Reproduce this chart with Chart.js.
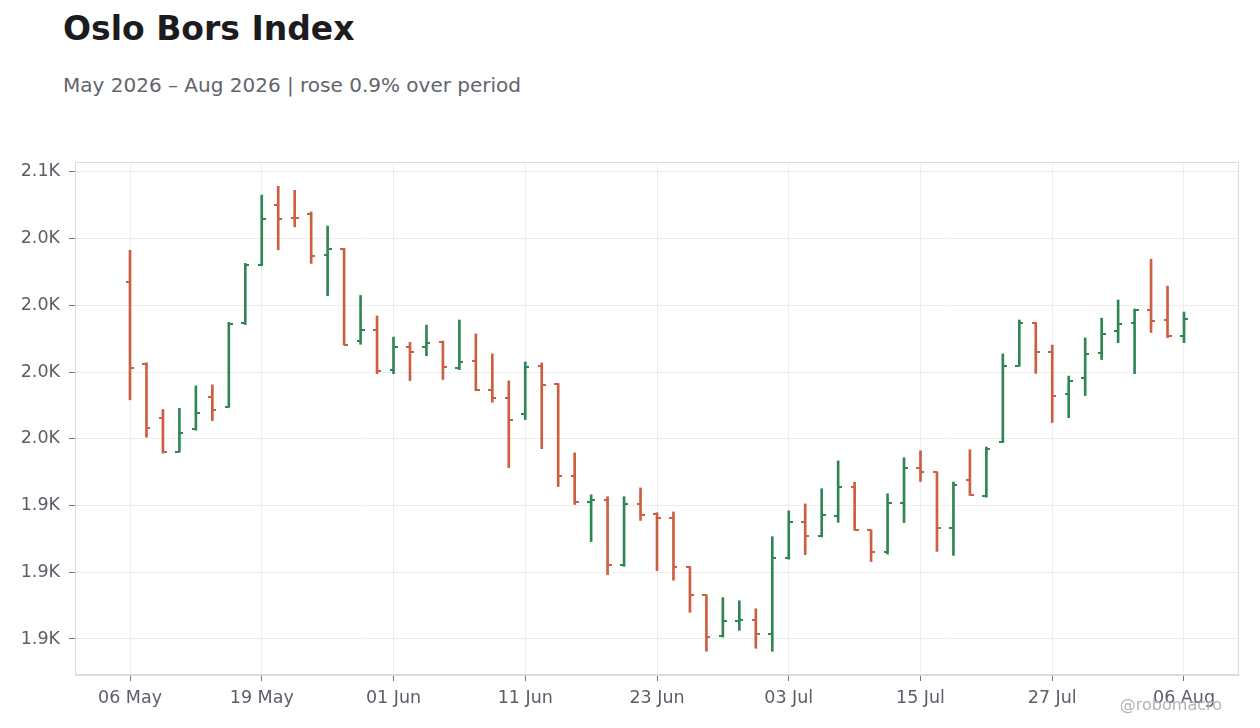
<!DOCTYPE html>
<html>
<head>
<meta charset="utf-8">
<script src="https://cdn.jsdelivr.net/npm/chart.js@4.4.1/dist/chart.umd.min.js"></script>
<style>
  html, body { margin: 0; padding: 0; background: #fff; }
  body { width: 1260px; height: 728px; position: relative; overflow: hidden; font-family: 'DejaVu Sans', sans-serif; }
  #chart { position: absolute; left: 0; top: 0; }
  .title { position: absolute; left: 63px; top: 12px; font-size: 33px; line-height: 33px; font-weight: bold; color: #1b1b20; white-space: nowrap; }
  .subtitle { position: absolute; left: 63px; top: 75px; font-size: 20px; line-height: 20px; color: #62646d; white-space: nowrap; }
  .credit { position: absolute; right: 38px; top: 697px; font-size: 16px; line-height: 16px; color: #b3b4b9; white-space: nowrap; }
</style>
</head>
<body>
<div class="title">Oslo Bors Index</div>
<div class="subtitle">May 2026 – Aug 2026 | rose 0.9% over period</div>
<canvas id="chart" width="1260" height="728"></canvas>
<div class="credit">@robomacro</div>
<script>
// trading days (Oslo Børs, 2026)
const dates = [
  '06 May', '07 May', '08 May', '11 May', '12 May', '13 May', '15 May', '18 May', '19 May', '20 May',
  '21 May', '22 May', '26 May', '27 May', '28 May', '29 May', '01 Jun', '02 Jun', '03 Jun', '04 Jun',
  '05 Jun', '08 Jun', '09 Jun', '10 Jun', '11 Jun', '12 Jun', '15 Jun', '16 Jun', '17 Jun', '18 Jun',
  '19 Jun', '22 Jun', '23 Jun', '24 Jun', '25 Jun', '26 Jun', '29 Jun', '30 Jun', '01 Jul', '02 Jul',
  '03 Jul', '06 Jul', '07 Jul', '08 Jul', '09 Jul', '10 Jul', '13 Jul', '14 Jul', '15 Jul', '16 Jul',
  '17 Jul', '20 Jul', '21 Jul', '22 Jul', '23 Jul', '24 Jul', '27 Jul', '28 Jul', '29 Jul', '30 Jul',
  '31 Jul', '03 Aug', '04 Aug', '05 Aug', '06 Aug'
];

const opens = [
  2008.8, 1978.0, 1957.7, 1945.2, 1953.8, 1965.8, 1962.0, 1993.3, 2015.2, 2037.6,
  2032.8, 2034.2, 2018.9, 2021.2, 1986.8, 1990.9, 1975.8, 1984.5, 1984.5, 1986.4,
  1976.6, 1979.3, 1968.4, 1965.4, 1959.1, 1977.2, 1970.4, 1935.9, 1926.5, 1926.9,
  1902.6, 1925.4, 1922.0, 1920.2, 1901.8, 1891.3, 1876.0, 1881.6, 1882.0, 1876.7,
  1905.2, 1919.0, 1913.4, 1920.9, 1932.1, 1915.7, 1907.4, 1925.8, 1939.2, 1937.4,
  1916.4, 1934.4, 1928.4, 1948.8, 1977.4, 1993.3, 1982.6, 1966.6, 1972.9, 1982.3,
  1990.5, 1993.5, 1998.4, 1994.6, 1988.6
];
const highs = [
  2020.6, 1978.5, 1961.0, 1961.4, 1969.8, 1970.2, 1993.6, 2015.7, 2041.3, 2044.6,
  2043.1, 2035.0, 2029.7, 2021.4, 2003.7, 1996.0, 1988.1, 1986.1, 1992.6, 1986.6,
  1994.5, 1989.3, 1981.8, 1971.7, 1978.8, 1978.4, 1970.7, 1944.7, 1929.0, 1928.3,
  1928.3, 1931.6, 1922.3, 1922.6, 1902.1, 1891.6, 1890.5, 1889.3, 1886.3, 1913.3,
  1923.0, 1925.6, 1931.3, 1941.7, 1933.7, 1915.9, 1929.4, 1942.9, 1945.5, 1937.6,
  1933.8, 1945.9, 1946.9, 1981.8, 1994.5, 1993.5, 1985.1, 1973.5, 1987.8, 1995.2,
  2002.0, 1998.6, 2017.3, 2007.2, 1997.5
];
const lows = [
  1964.6, 1950.6, 1944.6, 1945.0, 1953.2, 1956.8, 1961.8, 1992.8, 2014.8, 2020.8,
  2029.4, 2015.7, 2003.6, 1985.1, 1985.4, 1974.4, 1974.4, 1971.8, 1981.1, 1972.2,
  1975.9, 1968.0, 1963.7, 1939.2, 1957.2, 1946.3, 1932.1, 1925.4, 1911.5, 1899.1,
  1902.2, 1919.4, 1900.6, 1897.0, 1885.0, 1870.4, 1875.7, 1878.2, 1871.5, 1870.4,
  1904.9, 1906.6, 1913.2, 1918.7, 1915.7, 1904.0, 1906.8, 1918.6, 1934.0, 1907.8,
  1906.3, 1928.8, 1928.1, 1948.6, 1977.2, 1974.5, 1956.1, 1957.9, 1966.2, 1979.7,
  1986.0, 1974.4, 1989.8, 1987.9, 1986.0
];
const closes = [
  1976.5, 1954.0, 1945.2, 1952.3, 1959.8, 1960.9, 1993.0, 2015.2, 2032.3, 2032.4,
  2032.6, 2018.4, 2021.2, 1985.3, 1990.9, 1975.4, 1984.5, 1982.6, 1986.0, 1977.0,
  1978.9, 1968.4, 1965.3, 1957.2, 1977.0, 1970.3, 1935.9, 1926.5, 1926.9, 1902.6,
  1925.5, 1921.6, 1920.2, 1901.8, 1891.3, 1875.6, 1881.6, 1882.0, 1876.7, 1905.2,
  1919.0, 1913.4, 1921.3, 1931.8, 1915.9, 1907.4, 1925.8, 1939.2, 1937.6, 1916.4,
  1932.5, 1929.0, 1946.3, 1977.4, 1993.5, 1982.6, 1966.2, 1971.8, 1981.9, 1989.4,
  1993.1, 1998.4, 1994.3, 1988.5, 1995.0
];

const xTickIndexes = [0, 8, 16, 24, 32, 40, 48, 56, 64];
const yTickValues = [1875, 1900, 1925, 1950, 1975, 2000, 2025, 2050];
const yTickLabels = ['1.9K', '1.9K', '1.9K', '2.0K', '2.0K', '2.0K', '2.0K', '2.1K'];

const UP = '#2e8752';
const DOWN = '#cb5f3f';
const barColors = closes.map((c, i) => (c >= opens[i] ? UP : DOWN));

// open / close ticks + frame around the plot area
const ohlcTicks = {
  id: 'ohlcTicks',
  afterDatasetsDraw(chart) {
    const { ctx, scales: { x, y } } = chart;
    ctx.save();
    opens.forEach((o, i) => {
      const px = Math.round(x.getPixelForValue(i));
      ctx.fillStyle = barColors[i];
      ctx.fillRect(px - 4, Math.round(y.getPixelForValue(o)) - 1, 4, 2);
      ctx.fillRect(px, Math.round(y.getPixelForValue(closes[i])) - 1, 4, 2);
    });
    ctx.restore();
  },
  afterDraw(chart) {
    const { ctx, chartArea: a } = chart;
    ctx.save();
    ctx.strokeStyle = '#dcdcdf';
    ctx.lineWidth = 1;
    ctx.strokeRect(a.left + 0.5, a.top + 0.5, a.right - a.left - 1, a.bottom - a.top - 1);
    ctx.restore();
  }
};

const tickFont = { family: 'DejaVu Sans', size: 17.5 };

new Chart(document.getElementById('chart'), {
  type: 'bar',
  data: {
    datasets: [{
      data: lows.map((l, i) => ({ x: i, y: [l, highs[i]] })),
      backgroundColor: barColors,
      borderWidth: 0,
      barThickness: 2
    }]
  },
  options: {
    responsive: false,
    animation: false,
    devicePixelRatio: 1,
    layout: { padding: { top: 162, right: 21, left: 0, bottom: 0 } },
    plugins: {
      legend: { display: false },
      tooltip: { enabled: false }
    },
    scales: {
      x: {
        type: 'linear',
        offset: false,
        min: -3.34,
        max: 67.34,
        afterBuildTicks: s => { s.ticks = xTickIndexes.map(v => ({ value: v })); },
        afterFit: s => { s.height = 53; },
        grid: { offset: false, color: '#ededef', tickLength: 6, tickColor: '#74767f' },
        border: { color: '#dcdcdf' },
        ticks: {
          font: tickFont,
          color: '#5b5e68',
          padding: 7,
          maxRotation: 0,
          autoSkip: false,
          callback: v => dates[v]
        }
      },
      y: {
        min: 1861.5,
        max: 2053.7,
        afterBuildTicks: s => { s.ticks = yTickValues.map(v => ({ value: v })); },
        afterFit: s => { s.width = 75; },
        grid: { color: '#ededef', tickLength: 6, tickColor: '#74767f' },
        border: { color: '#dcdcdf' },
        ticks: {
          font: tickFont,
          color: '#5b5e68',
          padding: 9,
          callback: v => yTickLabels[yTickValues.indexOf(v)]
        }
      }
    }
  },
  plugins: [ohlcTicks]
});
</script>
</body>
</html>
